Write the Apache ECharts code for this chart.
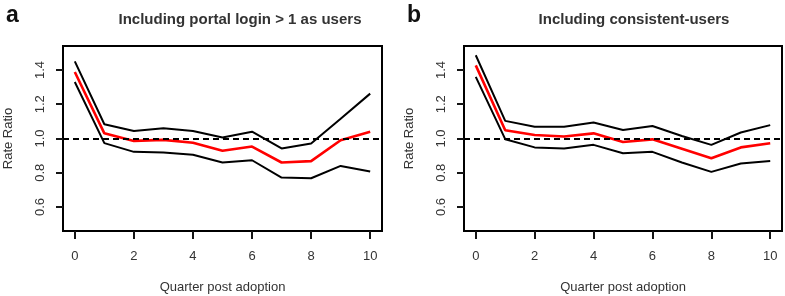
<!DOCTYPE html>
<html>
<head>
<meta charset="utf-8" />
<title>Rate ratio by quarter</title>
</head>
<body style="margin:0;background:#fff">
<div id="main" style="width: 785px;height: 296px"></div>
<script src="https://cdn.jsdelivr.net/npm/echarts@6/dist/echarts.min.js"></script>
<script>
const quarters = [0, 1, 2, 3, 4, 5, 6, 7, 8, 9, 10];
const xTicks = [0, 2, 4, 6, 8, 10];
const yTicks = [0.6, 0.8, 1.0, 1.2, 1.4];

// panel a: portal login > 1 as users
const aUpper = [1.45, 1.083, 1.044, 1.06, 1.044, 1.006, 1.04, 0.942, 0.971, 1.115, 1.262];
const aRate  = [1.388, 1.03, 0.986, 0.992, 0.975, 0.928, 0.953, 0.86, 0.868, 0.99, 1.04];
const aLower = [1.33, 0.973, 0.922, 0.918, 0.905, 0.86, 0.873, 0.772, 0.768, 0.84, 0.807];

// panel b: consistent users
const bUpper = [1.486, 1.103, 1.068, 1.068, 1.093, 1.05, 1.073, 1.015, 0.963, 1.035, 1.078];
const bRate  = [1.427, 1.048, 1.02, 1.012, 1.03, 0.98, 0.995, 0.94, 0.885, 0.948, 0.972];
const bLower = [1.36, 0.996, 0.948, 0.942, 0.963, 0.914, 0.922, 0.86, 0.805, 0.854, 0.869];

const font = 'Liberation Sans, Arial, sans-serif';
const tickColor = '#141414';
const pair = arr => quarters.map((q, i) => [q, arr[i]]);

const chart = echarts.init(document.getElementById('main'));

const grids = [
  { left: 63, top: 46, width: 319, height: 185 },
  { left: 464, top: 46, width: 318, height: 185 }
];

function xAxisFor(i) {
  return {
    gridIndex: i, type: 'value', min: -0.4, max: 10.4,
    name: 'Quarter post adoption', nameLocation: 'middle', nameGap: 50,
    nameTextStyle: { fontFamily: font, fontSize: 13, color: '#333' },
    axisLine: { show: true, onZero: false, lineStyle: { color: '#000', width: 2 } },
    axisTick: { show: true, customValues: xTicks, length: 8, lineStyle: { color: tickColor, width: 2 } },
    axisLabel: { customValues: xTicks, margin: 19, fontFamily: font, fontSize: 13, color: '#333' },
    splitLine: { show: false }
  };
}

function yAxisFor(i) {
  return {
    gridIndex: i, type: 'value', min: 0.46, max: 1.54,
    name: 'Rate Ratio', nameLocation: 'middle', nameGap: 48, nameRotate: 90,
    nameTextStyle: { fontFamily: font, fontSize: 13, color: '#333' },
    axisLine: { show: true, onZero: false, lineStyle: { color: '#000', width: 2 } },
    axisTick: { show: true, customValues: yTicks, length: 7, lineStyle: { color: tickColor, width: 2 } },
    axisLabel: {
      customValues: yTicks, rotate: 90, margin: 16,
      fontFamily: font, fontSize: 13, color: '#333',
      formatter: v => v.toFixed(1)
    },
    splitLine: { show: false }
  };
}

function line(i, data, color, width, withRef) {
  const s = {
    type: 'line', xAxisIndex: i, yAxisIndex: i, data: pair(data),
    showSymbol: false, symbol: 'none', silent: true,
    lineStyle: { color: color, width: width }
  };
  if (withRef) {
    s.markLine = {
      silent: true, symbol: 'none', label: { show: false },
      lineStyle: { color: '#000', width: 1.8, type: [6, 4] },
      data: [{ yAxis: 1.0 }]
    };
  }
  return s;
}

const option = {
  animation: false,
  grid: grids.map(g => Object.assign({ show: true, borderColor: '#000', borderWidth: 2, outerBoundsMode: 'none' }, g)),
  xAxis: [xAxisFor(0), xAxisFor(1)],
  yAxis: [yAxisFor(0), yAxisFor(1)],
  title: [
    { text: 'a', left: 1, top: -1, textStyle: { fontFamily: font, fontSize: 23, fontWeight: 'bold', color: '#111' } },
    { text: 'Including portal login > 1 as users', left: 235, top: 7, textAlign: 'center',
      textStyle: { fontFamily: font, fontSize: 15, fontWeight: 'bold', color: '#333' } },
    { text: 'b', left: 402, top: -1, textStyle: { fontFamily: font, fontSize: 23, fontWeight: 'bold', color: '#111' } },
    { text: 'Including consistent-users', left: 629, top: 7, textAlign: 'center',
      textStyle: { fontFamily: font, fontSize: 15, fontWeight: 'bold', color: '#333' } }
  ],
  series: [
    line(0, aUpper, '#000', 2, true),
    line(0, aLower, '#000', 2, false),
    line(0, aRate, '#ff0000', 2.6, false),
    line(1, bUpper, '#000', 2, true),
    line(1, bLower, '#000', 2, false),
    line(1, bRate, '#ff0000', 2.6, false)
  ]
};
chart.setOption(option);
</script>
</body>
</html>
